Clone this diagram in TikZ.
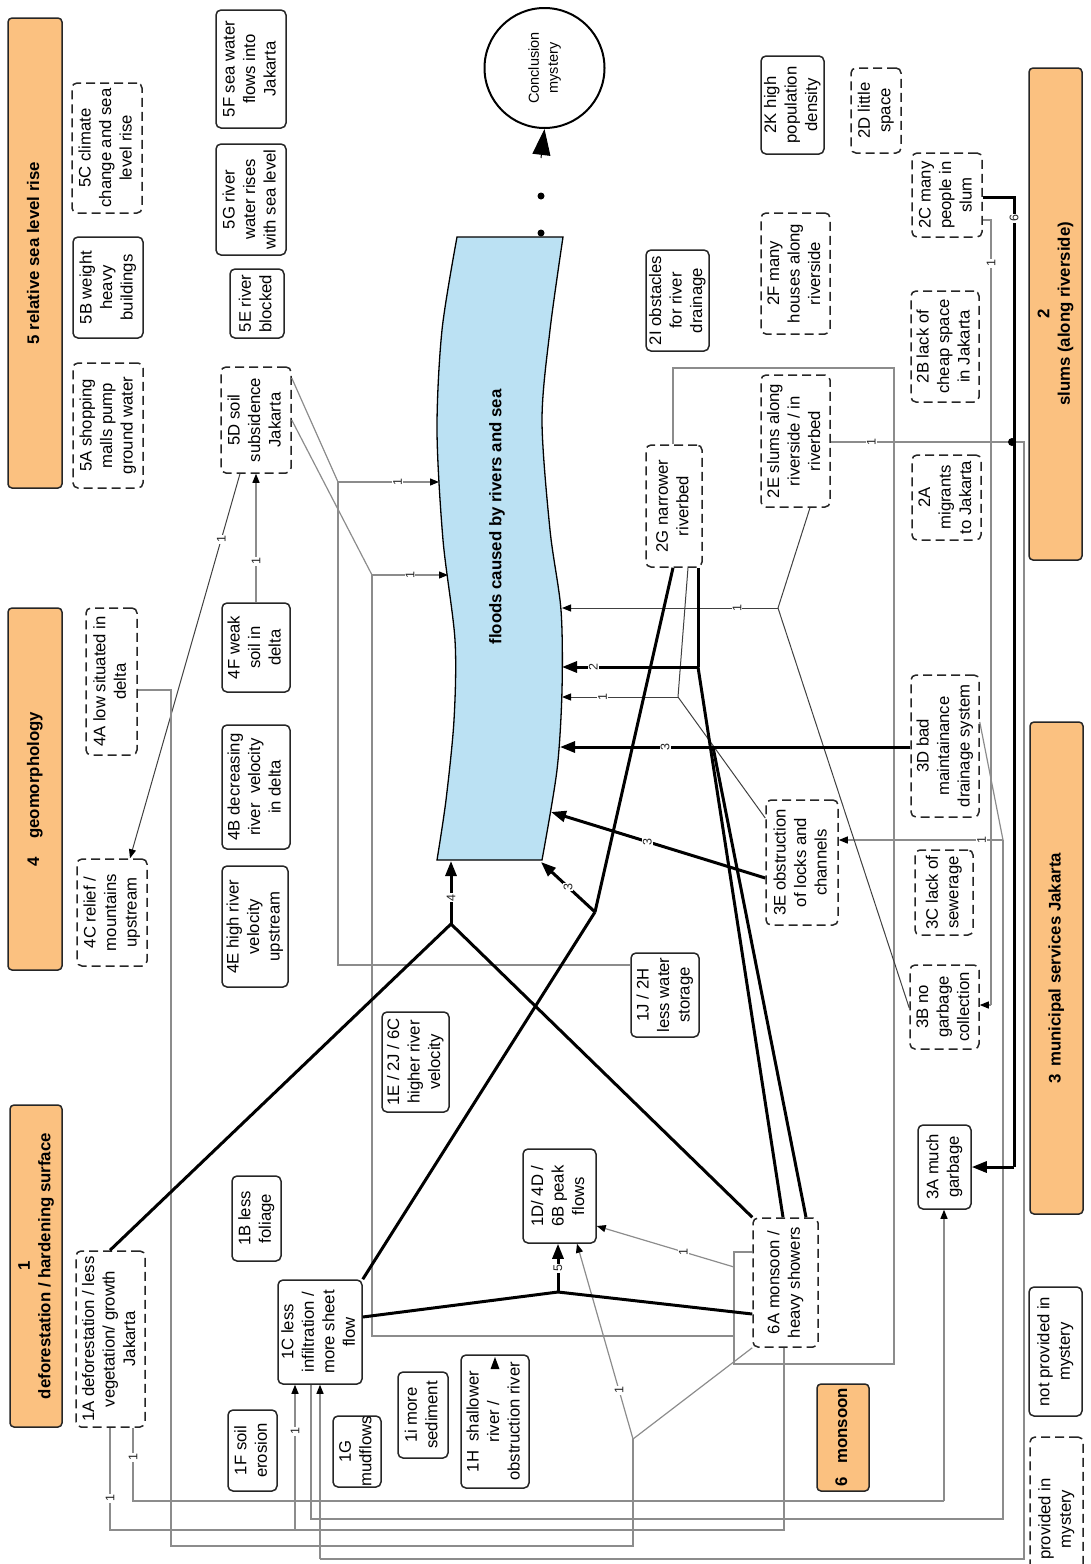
\documentclass[tikz,border=0pt]{standalone}
\usepackage{fontspec}
\setmainfont{Liberation Sans}
\usepackage{graphicx}
\usetikzlibrary{arrows.meta,calc}
\definecolor{catorange}{RGB}{251,193,128}
\definecolor{floodblue}{RGB}{187,225,243}
\definecolor{linegray}{RGB}{140,140,140}
\newcommand\rt[1]{\rotatebox{90}{\begin{tabular}{@{}c@{}}#1\end{tabular}}}
\newcommand\fsn{\fontsize{16.7}{20.5}\selectfont}
\newcommand\fsc{\fontsize{16.8}{20.5}\selectfont\bfseries}
\begin{document}
\begin{tikzpicture}[x=1pt,y=-1pt,
 bx/.style={draw=black!85, line width=1.5pt, rounded corners=5pt, fill=white, inner sep=0pt, font=\fsn},
 dbx/.style={bx, dash pattern=on 9pt off 5pt},
 cat/.style={draw=black!85, line width=1.5pt, rounded corners=4pt, fill=catorange, inner sep=0pt, font=\fsc},
 gl/.style={draw=linegray, line width=1.2pt},
 dl/.style={draw=black!75, line width=1pt},
 tk/.style={draw=black, line width=3pt},
 ga/.style={-{Triangle[length=9pt,width=7pt,color=black]}},
 ta/.style={-{Triangle[length=15pt,width=11pt]}},
 lab/.style={fill=white, inner sep=1pt, font=\fontsize{12.5}{12.5}\selectfont, rotate=90, text=black!85}]
\useasboundingbox (0,0) rectangle (1091,1564);

% ---------- flood shape ----------
\filldraw[fill=floodblue, draw=black, line width=1.3pt]
 (457,237) -- (563,237)
 -- plot[smooth] coordinates {(563,237) (550,330) (542,420) (550,530) (561,610) (562,690) (557,770) (542,860)}
 -- (437,860)
 -- plot[smooth] coordinates {(437,860) (446,800) (454,720) (455,640) (443,540) (437,430) (442,330) (457,237)}
 -- cycle;
\node[rotate=90, font=\fontsize{16.8}{20}\selectfont\bfseries] (floodtxt) at (497,517) {floods caused by rivers and sea};
\coordinate (ftop) at (541,233);
\coordinate (fdot) at (541,196);
\coordinate (cbase) at (541,158);
\coordinate (fl482) at (439,482);
\coordinate (fl575) at (448,575);
\coordinate (fl608) at (562,608);
\coordinate (fl667) at (562,667);
\coordinate (fl697) at (562,697);
\coordinate (fl747) at (560,747);
\coordinate (fl812) at (551,812);
\coordinate (fl862) at (541,862);
\coordinate (fbot) at (451,861);

% ---------- conclusion ----------
\node[draw, circle, line width=2pt, minimum size=120, inner sep=0pt, font=\fontsize{14.5}{19}\selectfont] (concl) at (544.5,68) {\rt{Conclusion\\mystery}};
\fill (ftop) circle (3.5pt);
\fill (fdot) circle (3.5pt);
\draw[line width=1pt, -{Triangle[length=26pt,width=18pt]}] (cbase) -- (concl.south);

% ---------- categories ----------
\node[cat, minimum width=54, minimum height=470] (c5) at (35,253) {\rt{5 relative sea level rise}};
\node[cat, minimum width=54, minimum height=362] (c4) at (35,789) {\rt{4\hspace{18pt}geomorphology}};
\node[cat, minimum width=52, minimum height=322] (c1) at (36,1266) {\rt{1\\deforestation / hardening surface}};
\node[cat, minimum width=53, minimum height=492] (c2) at (1055.5,314) {\rt{2\\slums (along riverside)}};
\node[cat, minimum width=53, minimum height=492] (c3) at (1056.5,968) {\rt{3\hspace{7pt}municipal services Jakarta}};
\node[cat, minimum width=52, minimum height=107] (c6) at (843,1437.5) {\rt{6\hspace{14pt}monsoon}};

% ---------- legend ----------
\node[bx, minimum width=53, minimum height=129] (lnp) at (1055.5,1351.5) {\rt{not provided in\\mystery}};
\node[dbx, minimum width=53, minimum height=164] (lp) at (1056.5,1519) {\rt{provided in\\mystery}};

% ---------- boxes ----------
\node[dbx, minimum width=70, minimum height=130] (n5C) at (107,148) {\rt{5C climate\\change and sea\\level rise}};
\node[bx, minimum width=70, minimum height=101] (n5B) at (108,287.5) {\rt{5B weight\\heavy\\buildings}};
\node[dbx, minimum width=70, minimum height=125] (n5A) at (108,425.5) {\rt{5A shopping\\malls pump\\ground water}};
\node[bx, minimum width=70, minimum height=118] (n5F) at (251,69) {\rt{5F sea water\\flows into\\Jakarta}};
\node[bx, minimum width=70, minimum height=111] (n5G) at (251,199.5) {\rt{5G river\\water rises\\with sea level}};
\node[bx, minimum width=54, minimum height=69] (n5E) at (257,303.5) {\rt{5E river\\blocked}};
\node[dbx, minimum width=70, minimum height=106] (n5D) at (256,420) {\rt{5D soil\\subsidence\\Jakarta}};
\node[dbx, minimum width=51, minimum height=147] (n4A) at (111.5,681.5) {\rt{4A low situated in\\delta}};
\node[bx, minimum width=68, minimum height=89] (n4F) at (256,647.5) {\rt{4F weak\\soil in\\delta}};
\node[bx, minimum width=68, minimum height=124] (n4B) at (256,787) {\rt{4B decreasing\\river\ \ velocity\\in delta}};
\node[dbx, minimum width=70, minimum height=107] (n4C) at (112,912.5) {\rt{4C relief /\\mountains\\upstream}};
\node[bx, minimum width=66, minimum height=121] (n4E) at (255,926.5) {\rt{4E high river\\velocity\\upstream}};
\node[dbx, minimum width=69, minimum height=176] (n1A) at (110.5,1339) {\rt{1A deforestation / less\\vegetation/ growth\\Jakarta}};
\node[bx, minimum width=49, minimum height=85] (n1B) at (256.5,1218.5) {\rt{1B less\\foliage}};
\node[bx, minimum width=84, minimum height=104] (n1C) at (320,1332) {\rt{1C less\\infiltration /\\more sheet\\flow}};
\node[bx, minimum width=49, minimum height=81] (n1F) at (252.5,1450.5) {\rt{1F soil\\erosion}};
\node[bx, minimum width=48, minimum height=71] (n1G) at (357,1451.5) {\rt{1G\\mudflows}};
\node[bx, minimum width=50, minimum height=86] (n1i) at (423,1415) {\rt{1i more\\sediment}};
\node[bx, minimum width=68, minimum height=133] (n1H) at (495,1421.5) {\rt{1H\ \ shallower\\river /\\obstruction river}};
\node[bx, minimum width=73, minimum height=94] (n1D) at (559.5,1196) {\rt{1D/ 4D /\\6B peak\\flows}};
\node[bx, minimum width=67, minimum height=100] (n1E) at (415.5,1062) {\rt{1E / 2J / 6C\\higher river\\velocity}};
\node[bx, minimum width=68, minimum height=84] (n1J) at (665,995) {\rt{1J / 2H\\less water\\storage}};
\node[dbx, minimum width=65, minimum height=129] (n6A) at (785.5,1282.5) {\rt{6A monsoon /\\heavy showers}};
\node[bx, minimum width=53, minimum height=84] (n3A) at (944.5,1167) {\rt{3A much\\garbage}};
\node[dbx, minimum width=72, minimum height=125] (n3E) at (802,862.5) {\rt{3E obstruction\\of locks and\\channels}};
\node[dbx, minimum width=58, minimum height=85] (n3C) at (944,892.5) {\rt{3C lack of\\sewerage}};
\node[dbx, minimum width=69, minimum height=84] (n3B) at (944.5,1007) {\rt{3B no\\garbage\\collection}};
\node[dbx, minimum width=68, minimum height=142] (n3D) at (945,746) {\rt{3D bad\\maintainance\\drainage system}};
\node[dbx, minimum width=69, minimum height=132] (n2E) at (795.5,441) {\rt{2E slums along\\riverside / in\\riverbed}};
\node[dbx, minimum width=69, minimum height=85] (n2A) at (946.5,497.5) {\rt{2A\\migrants\\to Jakarta}};
\node[bx, minimum width=63, minimum height=98] (n2K) at (792.5,105) {\rt{2K high\\population\\density}};
\node[dbx, minimum width=50, minimum height=85] (n2D) at (876,110.5) {\rt{2D little\\space}};
\node[dbx, minimum width=69, minimum height=121] (n2F) at (795.5,273.5) {\rt{2F many\\houses along\\riverside}};
\node[dbx, minimum width=70, minimum height=84] (n2C) at (947,195) {\rt{2C many\\people in\\slum}};
\node[dbx, minimum width=68, minimum height=111] (n2B) at (945,346.5) {\rt{2B lack of\\cheap space\\in Jakarta}};
\node[bx, minimum width=63, minimum height=101] (n2I) at (677.5,300.5) {\rt{2I obstacles\\for river\\drainage}};
\node[dbx, minimum width=56, minimum height=122] (n2G) at (674,506) {\rt{2G narrower\\riverbed}};

% ---------- thin connectors ----------
\draw[dl, ga] (240,0 |- n5D.south) -- node[lab, pos=.17]{1} (130,0 |- n4C.north);
\draw[gl, ga] (n4F.north) -- node[lab, pos=.32]{1} (n4F.north |- n5D.south);
\draw[gl] (n5D.east |- 0,378) -- (338,482);
\draw[gl] (n1J.west |- 0,965) -- (338,965) -- (338,482);
\draw[gl, ga] (338,482) -- node[lab, pos=.59]{1} (fl482);
\draw[gl] (n5D.east |- 0,420) -- (372,575);
\draw[gl, ga] (372,575) -- node[lab, pos=.5]{1} (fl575);
\draw[gl] (372,575) -- (372,1336) -- (734,1336);
\draw[gl] (n6A.west |- 0,1252) -- (734,1252) -- (734,1364) -- (894,1364) -- (894,368) -- (673,368) -- (673,0 |- n2G.north);
\draw[gl, ga] (734,1267) -- node[lab, pos=.37]{1} (n1D.east |- 0,1226);
\draw[gl] (n4A.east |- 0,690) -- (171,690) -- (171,1546) -- (633,1546) -- (633,1439);
\draw[gl, ga] (633,1439) -- node[lab, pos=.25]{1} (577,0 |- n1D.south);
\draw[gl] (633,1439) -- (n6A.south west);
\draw[gl] (110,0 |- n1A.south) -- node[lab, pos=.69]{1} (110,1530) -- (295,1530);
\draw[gl, ga] (295,1530) -- node[lab, pos=.68]{1} (295,0 |- n1C.south);
\draw[gl] (784,0 |- n6A.south) -- (784,1530) -- (295,1530);
\draw[gl] (133,0 |- n1A.south) -- node[lab, pos=.4]{1} (133,1501) -- (944,1501);
\draw[gl, ga] (944,1501) -- (944,0 |- n3A.south);
\draw[gl] (311,0 |- n1C.south) -- (311,1519) -- (1003,1519) -- (1003,840);
\draw[gl] (n3D.east |- 0,722) -- (1003,840);
\draw[gl, ga] (1003,840) -- node[lab, pos=.13]{1} (n3E.east |- 0,840);
\draw[gl] (n2C.east |- 0,220) -- (991,220) -- node[lab, pos=.055]{1} (991,1005);
\draw[gl, ga] (991,1005) -- (n3B.east |- 0,1005);
\draw[gl] (n2E.east |- 0,442) -- node[lab, pos=.21]{1} (1024,442) -- (1024,1559) -- (320,1559);
\draw[gl, ga] (320,1559) -- (320,0 |- n1C.south);
\fill (1012,442) circle (4pt);
\draw[dl] (810,0 |- n2E.south) -- (778,608);
\draw[dl] (n3B.west |- 0,1008) -- (778,608);
\draw[dl, ga] (778,608) -- node[lab, pos=.19]{1} (fl608);
\draw[dl] (688,0 |- n2G.south) -- (678,697);
\draw[dl] (n3E.west |- 0,818) -- (678,697);
\draw[dl, ga] (678,697) -- node[lab, pos=.65]{1} (fl697);

% ---------- thick connectors ----------
\draw[tk] (698,0 |- n2G.south) -- (698,667);
\draw[tk, ta] (698,667) -- node[lab, pos=.77]{2} (fl667);
\draw[tk] (698,667) -- (783,0 |- n6A.north);
\draw[tk, ta] (n3D.west |- 0,747) -- node[lab, pos=.70]{3} (fl747);
\draw[tk] (713,747) -- (806,0 |- n6A.north);
\draw[tk, ta] (n3E.west |- 0,878) -- node[lab, pos=.55]{3} (fl812);
\draw[tk] (n1C.north east) -- (595,912);
\draw[tk] (673,0 |- n2G.south) -- (595,912);
\draw[tk, ta] (595,912) -- node[lab, pos=.5]{3} (fl862);
\draw[tk] (110,0 |- n1A.north) -- (451,924);
\draw[tk] (n6A.north west) -- (451,924);
\draw[tk, ta] (451,924) -- node[lab, pos=.42]{4} (fbot);
\draw[tk] (n1C.east |- 0,1317) -- (558,1292);
\draw[tk] (n6A.west |- 0,1314) -- (558,1292);
\draw[tk, ta] (558,1292) -- node[lab, pos=.49]{5} (558,0 |- n1D.south);
\draw[tk] (n2C.east |- 0,197) -- (1014,197) -- node[lab, pos=.022]{6} (1014,1167);
\draw[tk, ta] (1014,1167) -- (n3A.east |- 0,1167);

% arrowhead inside 1H
\fill (495,1357) -- (490.5,1369) -- (499.5,1369) -- cycle;
\end{tikzpicture}
\end{document}
